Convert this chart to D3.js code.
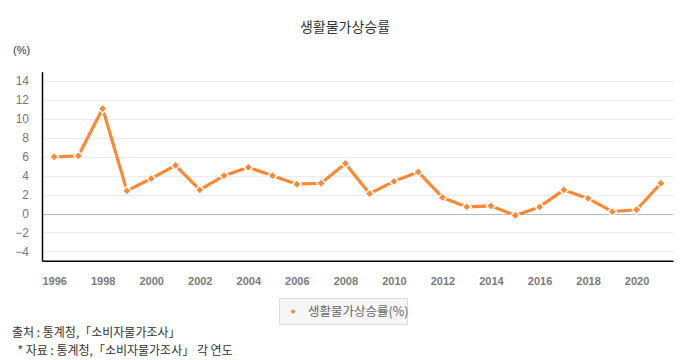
<!DOCTYPE html>
<html><head><meta charset="utf-8">
<script src="https://cdn.jsdelivr.net/npm/d3@7"></script>
<style>
html,body{margin:0;padding:0;background:#fff;}
svg{display:block;}
</style></head>
<body>
<svg id="c" width="690" height="360"></svg>
<script>
const years = ["1996","1997","1998","1999","2000","2001","2002","2003","2004","2005","2006","2007","2008","2009","2010","2011","2012","2013","2014","2015","2016","2017","2018","2019","2020","2021"];
const values = [6.0,6.1,11.1,2.4,3.7,5.1,2.5,4.0,4.9,4.0,3.1,3.2,5.3,2.1,3.4,4.4,1.7,0.7,0.8,-0.2,0.7,2.5,1.6,0.2,0.4,3.2];
const yTicks = [-4,-2,0,2,4,6,8,10,12,14];
const xTickLabels = ["1996","1998","2000","2002","2004","2006","2008","2010","2012","2014","2016","2018","2020"];
const title = "생활물가상승률";
const seriesName = "생활물가상승률(%)";
const unitLabel = "(%)";
const notes = ["출처 : 통계청,「소비자물가조사」", "  * 자료 : 통계청,「소비자물가조사」 각 연도"];

(function(){
const svg = d3.select("#c");
const mL = 42, mR = 673, mT = 71.7, mB = 260.8;
const color = "#ff8833";
const kr = "'Noto Sans CJK KR', 'Liberation Sans', sans-serif";
const num = "'Liberation Sans', Arial, sans-serif";

const x = d3.scalePoint().domain(years).range([mL, mR]).padding(0.5);
const y = d3.scaleLinear().domain([-5, 15]).range([mB, mT]);

// grid
svg.append("g").selectAll("line").data(yTicks).join("line")
  .attr("x1", mL).attr("x2", mR)
  .attr("y1", d => Math.round(y(d)) + 0.5).attr("y2", d => Math.round(y(d)) + 0.5)
  .attr("stroke", d => d === 0 ? "#b4bcc4" : "#ebebeb").attr("stroke-width", 1);

// y axis
const ya = svg.append("g").attr("transform", `translate(${mL},0)`)
  .call(d3.axisLeft(y).tickValues(yTicks).tickSize(0).tickPadding(13));
ya.select(".domain").attr("stroke", "#000").attr("stroke-width", 1.5);
ya.selectAll("text").attr("font-family", num).attr("font-size", 12).attr("fill", "#777");

// x axis
const xa = svg.append("g").attr("transform", `translate(0,${mB})`)
  .call(d3.axisBottom(x).tickValues(xTickLabels).tickSize(0).tickPadding(16));
xa.select(".domain").attr("stroke", "#000").attr("stroke-width", 1.5);
xa.selectAll("text").attr("font-family", num).attr("font-size", 11).attr("font-weight", "bold").attr("fill", "#7a7a7a");

// line
const pts = years.map((yr, i) => ({yr, v: values[i]}));
svg.append("path").datum(pts)
  .attr("fill", "none").attr("stroke", color).attr("stroke-width", 3.2)
  .attr("stroke-linejoin", "round")
  .attr("d", d3.line().x(d => x(d.yr)).y(d => y(d.v)));

svg.append("g").selectAll("path").data(pts).join("path")
  .attr("d", d3.symbol().type(d3.symbolSquare).size(40))
  .attr("transform", d => `translate(${x(d.yr)},${y(d.v)}) rotate(45)`)
  .attr("fill", color).attr("stroke", "#fff").attr("stroke-width", 1.5);

// title
svg.append("text").attr("x", 345).attr("y", 32).attr("text-anchor", "middle")
  .attr("font-family", kr).attr("font-size", 14).attr("fill", "#333").text(title);
svg.append("text").attr("x", 13).attr("y", 54)
  .attr("font-family", num).attr("font-size", 11).attr("fill", "#333").text(unitLabel);

// legend
const lg = svg.append("g");
lg.append("rect").attr("x", 279.5).attr("y", 298.5).attr("width", 128).attr("height", 26)
  .attr("fill", "#f6f6f6").attr("stroke", "#dcdcdc");
lg.append("path").attr("d", d3.symbol().type(d3.symbolSquare).size(26))
  .attr("transform", "translate(293,311.5) rotate(45)")
  .attr("fill", color).attr("stroke", "#fff").attr("stroke-width", 1.5);
lg.append("text").attr("x", 308).attr("y", 316).attr("font-family", kr)
  .attr("font-size", 12.5).attr("fill", "#666").text(seriesName);

// notes
svg.append("g").selectAll("text").data(notes).join("text")
  .attr("x", 12).attr("y", (d, i) => 337 + i * 18)
  .attr("font-family", kr).attr("font-size", 12).attr("fill", "#333")
  .style("white-space", "pre").text(d => d);
})();
</script>
</body></html>
